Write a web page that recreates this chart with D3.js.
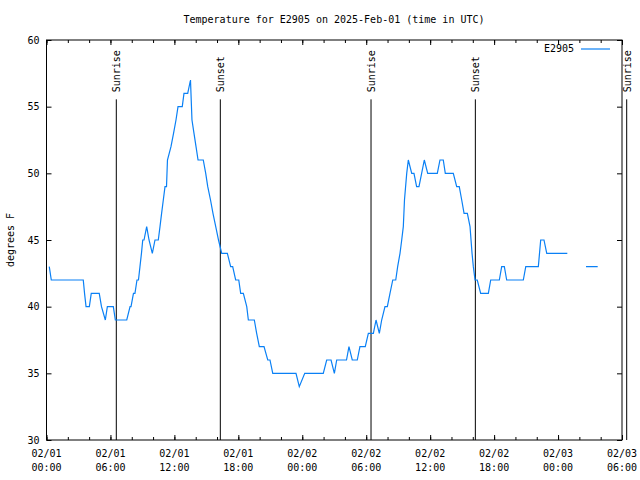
<!DOCTYPE html>
<html>
<head>
<meta charset="utf-8">
<script src="https://cdn.jsdelivr.net/npm/d3@7"></script>
<style>
body { margin: 0; background: #fff; }
text { font-family: "DejaVu Sans Mono", monospace; font-size: 10px; fill: #000; }
</style>
</head>
<body>
<div id="chart"></div>
<script>
//hours after 2025-02-01 00:00 UTC, and temperature readings (null = no data)
var hours = [0.26, 0.45, 3.45, 3.57, 3.71, 4.02, 4.20, 4.95, 5.16, 5.52, 5.71, 6.27, 6.46, 7.53,
    7.84, 7.93, 8.16, 8.30, 8.49, 8.63, 8.77, 8.91, 9.03, 9.15, 9.40, 9.62, 9.93, 10.18, 10.49,
    10.65, 10.80, 10.96, 11.12, 11.26, 11.35, 11.68, 11.92, 12.15, 12.34, 12.74, 12.90, 13.25,
    13.51, 13.65, 13.84, 14.03, 14.22, 14.71, 14.94, 15.13, 15.39, 15.62, 15.88, 16.14, 16.44,
    16.97, 17.28, 17.47, 17.75, 18.04, 18.22, 18.47, 18.79, 18.94, 19.50, 19.72, 19.97, 20.41,
    20.76, 20.97, 21.23, 23.41, 23.72, 24.23, 25.97, 26.29, 26.70, 27.01, 27.23, 28.15, 28.38,
    28.69, 29.16, 29.41, 29.91, 30.20, 30.67, 30.92, 31.23, 31.45, 31.76, 31.98, 32.23, 32.49,
    32.77, 32.95, 33.17, 33.33, 33.48, 33.59, 33.80, 33.95, 34.27, 34.48, 34.73, 34.95, 35.20,
    35.45, 35.77, 36.67, 36.92, 37.23, 37.42, 38.17, 38.49, 38.73, 38.96, 39.18, 39.49, 39.74,
    39.93, 40.05, 40.21, 40.42, 40.74, 41.46, 41.68, 42.49, 42.71, 42.96, 43.18, 44.74, 44.97,
    46.15, 46.37, 46.68, 46.94, 48.87, 49.70, 50.62, 51.72];
var temps = [43, 42, 42, 41, 40, 40, 41, 41, 40, 39, 40, 40, 39, 39,
    40, 40, 41, 41, 42, 42, 43, 44, 45, 45, 46, 45, 44, 45, 45,
    46, 47, 48, 49, 49, 51, 52, 53, 54, 55, 55, 56, 56,
    57, 54, 53, 52, 51, 51, 50, 49, 48, 47, 46, 45, 44,
    44, 43, 43, 42, 42, 41, 41, 40, 39, 39, 38, 37, 37,
    36, 36, 35, 35, 34, 35, 35, 36, 36, 35, 36, 36, 37,
    36, 36, 37, 37, 38, 38, 39, 38, 39, 40, 40, 41, 42,
    42, 43, 44, 45, 46, 48, 50, 51, 50, 50, 49, 49, 50,
    51, 50, 50, 51, 51, 50, 50, 49, 49, 48, 47, 47, 46,
    44, 43, 42, 42, 41, 41, 42, 42, 43, 43, 42, 42, 43,
    43, 45, 45, 44, 44, null, 43, 43];

//sunrise / sunset markers (hours after start)
var sunHours = [6.55, 16.31, 30.45, 40.24, 54.44];
var sunLabels = ["Sunrise", "Sunset", "Sunrise", "Sunset", "Sunrise"];

var yTicks = [30, 35, 40, 45, 50, 55, 60];
var seriesName = "E2905";
var title = "Temperature for E2905 on 2025-Feb-01 (time in UTC)";

//svg and plot borders
var svgW = 640;
var svgH = 480;
var margin = { top: 40, right: 18, bottom: 40, left: 46.5 };
var width = svgW - margin.left - margin.right;
var height = svgH - margin.top - margin.bottom;

var start = Date.UTC(2025, 1, 1, 0, 0);
function toDate(h) { return new Date(start + h * 3600 * 1000); }

var svg = d3.select("#chart").append("svg")
    .attr("width", svgW)
    .attr("height", svgH);

var g = svg.append("g")
    .attr("transform", `translate(${margin.left}, ${margin.top})`);

var x = d3.scaleUtc()
    .domain([toDate(0), toDate(54)])
    .range([0, width]);

var y = d3.scaleLinear()
    .domain([30, 60])
    .range([height, 0]);

//minor ticks every 2 hours, major every 6
var minorTicks = d3.utcHour.every(2).range(toDate(0), toDate(54.01));
var majorTicks = d3.utcHour.every(6).range(toDate(0), toDate(54.01));

//bottom and top axes (ticks only, labels added by hand for two lines)
g.append("g")
    .attr("transform", `translate(0, ${height})`)
    .call(d3.axisBottom(x).tickValues(minorTicks).tickSize(-3).tickFormat(""));
g.append("g")
    .attr("transform", `translate(0, ${height})`)
    .call(d3.axisBottom(x).tickValues(majorTicks).tickSize(-5).tickFormat(""));
g.append("g")
    .call(d3.axisTop(x).tickValues(minorTicks).tickSize(-3).tickFormat(""));
g.append("g")
    .call(d3.axisTop(x).tickValues(majorTicks).tickSize(-5).tickFormat(""));

//left and right axes
g.append("g")
    .call(d3.axisLeft(y).tickValues(yTicks).tickSize(-5).tickPadding(7).tickFormat(d3.format("d")));
g.append("g")
    .attr("transform", `translate(${width}, 0)`)
    .call(d3.axisRight(y).tickValues(yTicks).tickSize(-5).tickFormat(""));

g.selectAll(".domain").remove();
g.selectAll(".tick line").attr("stroke", "#000");
g.selectAll(".tick text")
    .style("font-family", "DejaVu Sans Mono, monospace")
    .style("font-size", "10px");

//plot border
g.append("rect")
    .attr("width", width)
    .attr("height", height)
    .attr("fill", "none")
    .attr("stroke", "#000");

//two line tick labels
var fmtDay = d3.utcFormat("%m/%d");
var fmtTime = d3.utcFormat("%H:%M");
var xLabels = g.append("g").selectAll("text")
    .data(majorTicks)
    .enter()
    .append("text")
    .attr("text-anchor", "middle")
    .attr("transform", d => `translate(${x(d)}, ${height + 17})`);
xLabels.append("tspan").attr("x", 0).attr("y", 0).text(d => fmtDay(d));
xLabels.append("tspan").attr("x", 0).attr("y", 14).text(d => fmtTime(d));

//sunrise / sunset lines
var sun = g.append("g").selectAll("g")
    .data(sunHours)
    .enter()
    .append("g");
sun.append("line")
    .attr("x1", d => x(toDate(d)))
    .attr("x2", d => x(toDate(d)))
    .attr("y1", y(55.55))
    .attr("y2", height)
    .attr("stroke", "#000");
sun.append("text")
    .attr("text-anchor", "start")
    .attr("transform", d => `translate(${x(toDate(d)) + 4}, ${y(55.55) - 7}) rotate(-90)`)
    .text((d, i) => sunLabels[i]);

//temperature line
var data = hours.map((h, i) => ({ date: toDate(h), temp: temps[i] }));
var line = d3.line()
    .defined(d => d.temp !== null)
    .x(d => x(d.date))
    .y(d => y(d.temp));
g.append("path")
    .datum(data)
    .attr("fill", "none")
    .attr("stroke", "#0a80f5")
    .attr("stroke-width", 1.2)
    .attr("d", line);

//legend
g.append("text")
    .attr("x", width - 48)
    .attr("y", 12)
    .attr("text-anchor", "end")
    .text(seriesName);
g.append("line")
    .attr("x1", width - 41)
    .attr("x2", width - 12)
    .attr("y1", 9)
    .attr("y2", 9)
    .attr("stroke", "#0a80f5")
    .attr("stroke-width", 1.2);

//title
svg.append("text")
    .attr("x", 334)
    .attr("y", 23)
    .attr("text-anchor", "middle")
    .text(title);

//y axis title
svg.append("text")
    .attr("text-anchor", "middle")
    .attr("transform", `translate(14, ${margin.top + height / 2}) rotate(-90)`)
    .text("degrees F");
</script>
</body>
</html>
